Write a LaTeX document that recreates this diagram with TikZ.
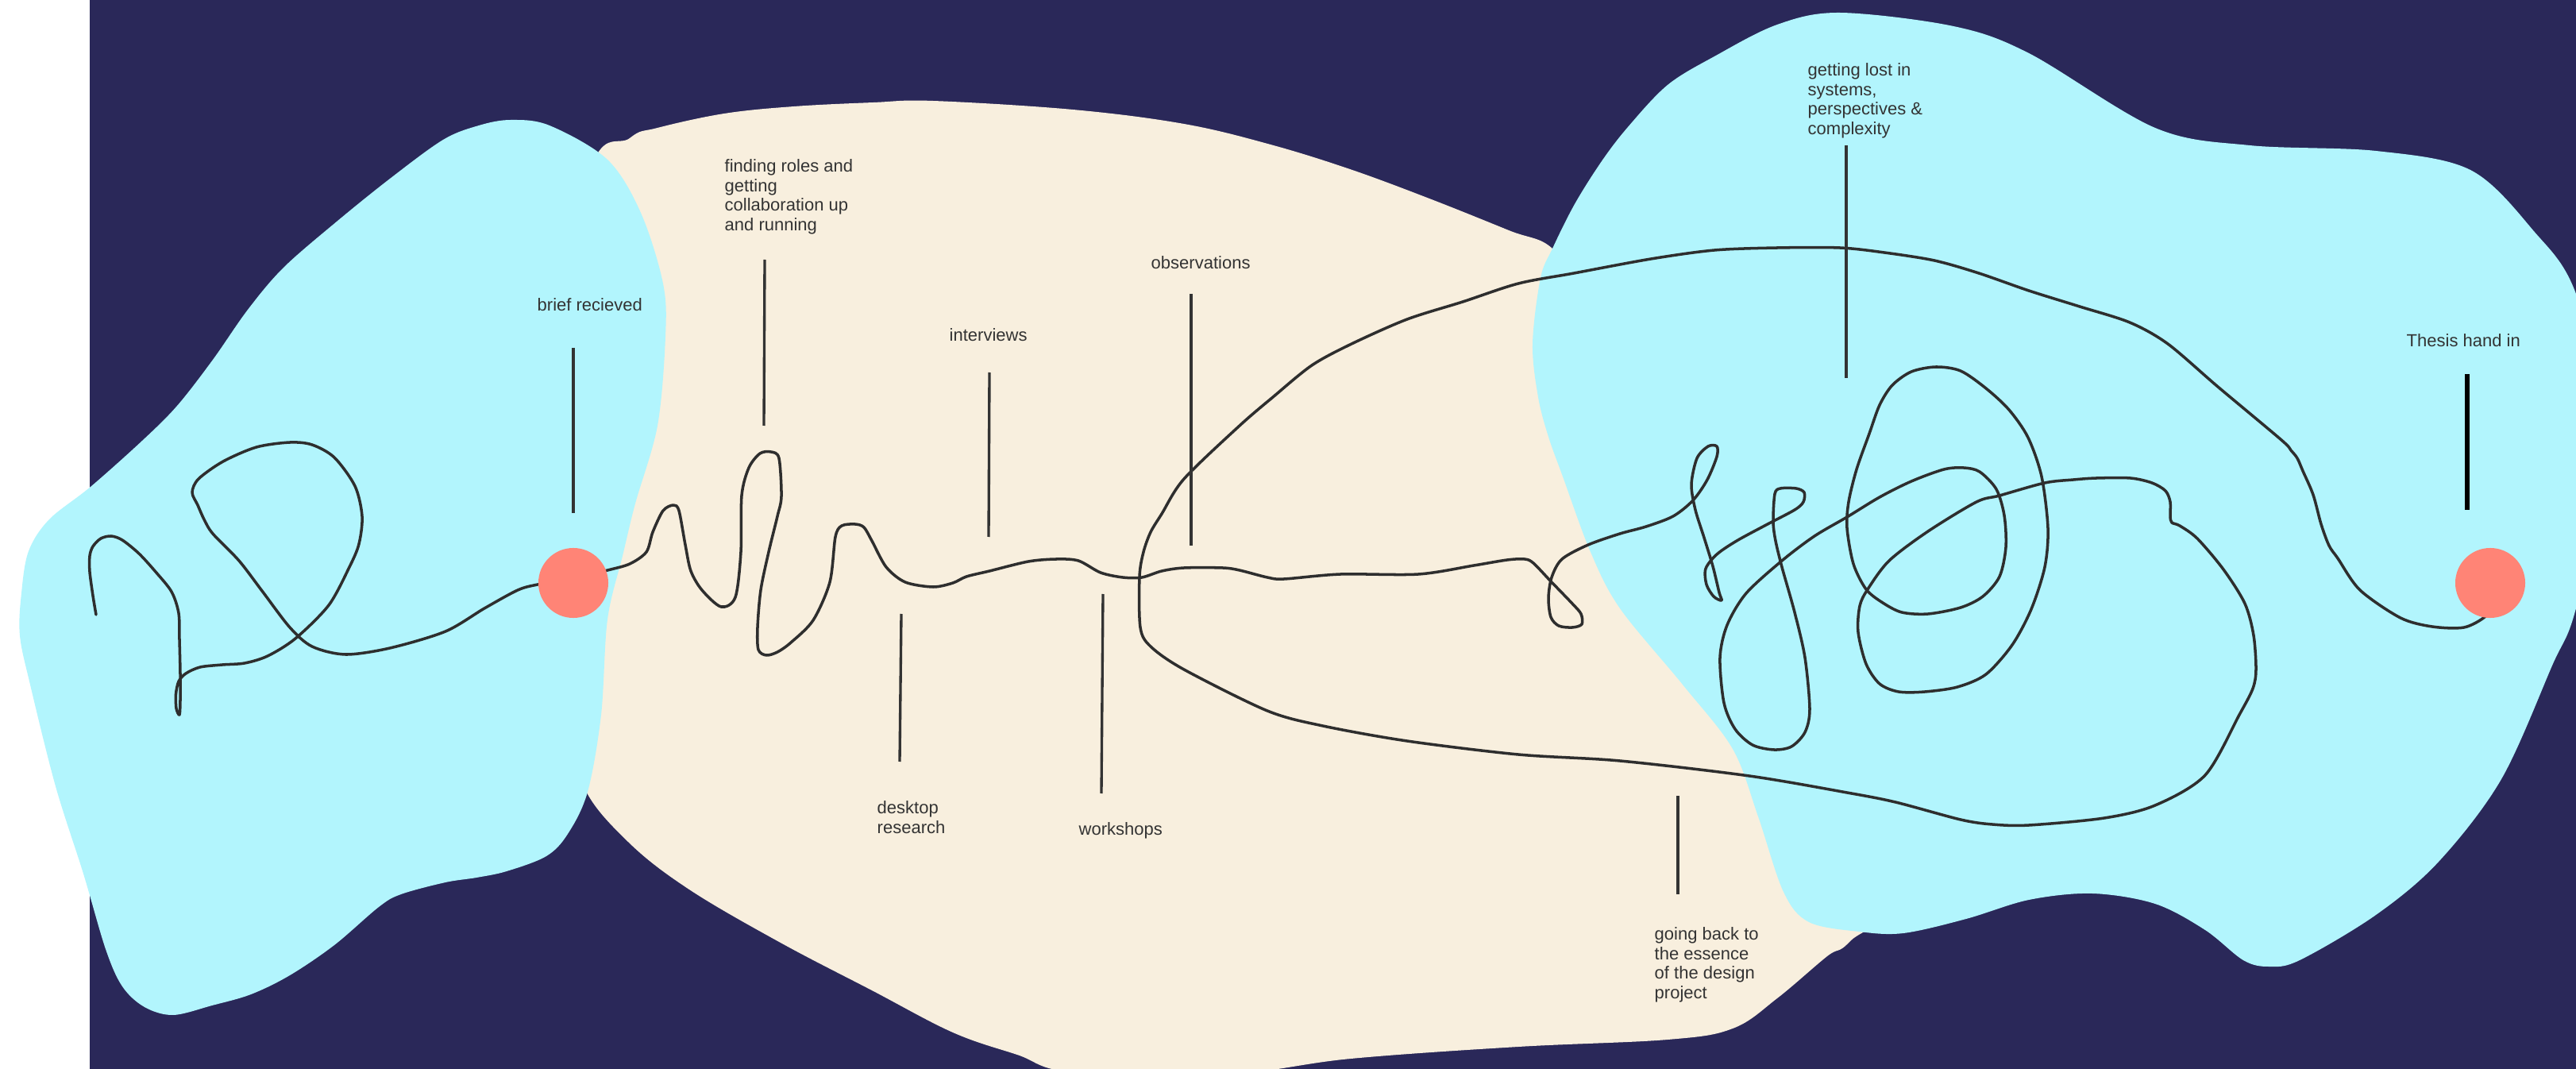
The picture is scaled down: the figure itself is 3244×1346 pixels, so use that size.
\documentclass[tikz,border=0pt]{standalone}
\usepackage{fontspec}
\setmainfont{Liberation Sans}
\definecolor{navy}{HTML}{2A2859}
\definecolor{skyc}{HTML}{B2F5FD}
\definecolor{sand}{HTML}{F8EFDE}
\definecolor{coral}{HTML}{FF8476}
\definecolor{ink}{HTML}{2E2E2E}
\definecolor{labelc}{HTML}{333333}
\newcommand\labfont{\fontsize{6.26pt}{6.97pt}\selectfont}
\begin{document}
\begin{tikzpicture}[x=0.01cm,y=-0.01cm,
  squig/.style={draw=ink, line width=1pt, line cap=round, line join=round},
  tickline/.style={draw=labelc, line width=0.95pt},
  thesisline/.style={draw=black, line width=1.5pt},
  lab/.style={font=\labfont, text=labelc, inner sep=0pt, anchor=north west, align=left},
  dot/.style={circle, fill=coral, minimum size=0.88cm, inner sep=0pt}]
\useasboundingbox (0,0) rectangle (3244,1346);
\clip (0,0) rectangle (3244,1346);
\fill[white] (0,0) rectangle (3244,1346);
\fill[navy] (113,0) rectangle (3244,1346);
% beige blob
\fill[sand] plot[smooth cycle, tension=0.6] coordinates {
 (793,174) (828,161) (912,143) (1000,134) (1100,129) (1175,127) (1351,138) (1491,156)
 (1600,182) (1700,213) (1800,250) (1900,290) (1955,313) (2000,380) (2060,540)
 (2220,880) (2400,1100) (2330,1185)
 (2301,1204) (2238,1257) (2182,1295) (2100,1309) (1912,1318) (1701,1333) (1550,1352)
 (1351,1350) (1281,1328) (1200,1300) (1098,1247) (983,1187) (868,1120) (791,1060)
 (735,990) (720,900) (700,600) (740,230)};
% left cyan blob
\fill[skyc] plot[smooth cycle, tension=0.55] coordinates {
 (643,151) (692,158) (765,201) (807,268) (835,357) (838,424) (828,536) (800,634)
 (784,700) (765,780) (757,900) (740,997) (715,1050) (688,1078) (638,1097) (600,1105)
 (561,1111) (505,1126) (477,1142) (421,1190) (365,1228) (316,1252) (267,1266)
 (218,1278) (182,1268) (154,1242) (133,1195) (105,1100) (70,990) (38,862) (25,800)
 (27,747) (36,694) (62,654) (114,613) (179,555) (223,511) (268,453) (312,390)
 (357,337) (424,279) (491,225) (558,176) (603,158)};
% right cyan blob
\fill[skyc] plot[smooth cycle, tension=0.55] coordinates {
 (1955,313) (1983,257) (2017,203) (2050,160) (2100,107) (2159,71) (2238,31) (2317,16)
 (2460,33) (2555,67)
 (2714,161) (2833,183) (2992,190) (3111,214) (3190,290) (3244,370) (3290,560)
 (3244,766) (3214,838) (3150,981) (3071,1085) (2992,1152) (2896,1209) (2857,1217)
 (2825,1209) (2777,1171) (2714,1138) (2635,1125) (2555,1133) (2476,1157) (2397,1175)
 (2341,1173) (2278,1161) (2246,1123) (2214,1028) (2182,943) (2119,862) (2040,766)
 (2003,695) (1968,600) (1950,550) (1937,500) (1930,433) (1940,350)};
% the journey line
\draw[squig] plot[smooth, tension=0.5] coordinates {
 (121,774) (117,750) (113,720) (113,700) (117,688) (127,678) (140,675) (154,680)
 (175,697) (196,720) (216,745) (225,772) (226,805) (227,848) (227,882) (226,900)
 (222,892) (221.5,874) (225,858) (234,848) (252,840) (280,837) (308,835) (337,826)
 (372,804) (414,762) (440,714) (452,685) (456,650) (447,612) (421,576) (393,560)
 (365,557) (323,563) (281,581) (250,603) (242,620) (249,636) (257,654) (268,672)
 (301,706) (330,744) (365,790) (393,814) (435,824) (491,816) (561,795) (610,766)
 (652,743) (677,736) (722,728) (765,718) (793,710) (814,695) (822,670) (835,643)
 (848,636) (855,643) (863,686) (870,719) (884,743) (908,764) (926,752) (933,695)
 (934,624) (943,589) (957,571) (971,569) (981,577) (984,625) (979,650) (968,695)
 (958,743) (954,790) (955,818) (965,825) (979,821) (996,809) (1024,781) (1045,733)
 (1052,676) (1060,662) (1077,660) (1088,664) (1098,681) (1116,714) (1140,733)
 (1175,739) (1200,734) (1217,726) (1246,719) (1295,707) (1330,704) (1358,706)
 (1386,721) (1414,727) (1438,727) (1463,719) (1491,715) (1540,715) (1561,718)
 (1596,727) (1617,729) (1688,723) (1786,723) (1856,712) (1898,705) (1920,704)
 (1931,709) (1953,732) (1980,760) (1991,773) (1992,786) (1980,790) (1963,788)
 (1953,777) (1950,753) (1954,727) (1967,704) (2000,686) (2040,672) (2073,663)
 (2107,650) (2132,630) (2150,604) (2162,575) (2162,562) (2151,562) (2137,577)
 (2130,610) (2135,642) (2146,677) (2157,713) (2165,746) (2168,756) (2158,751)
 (2149,736) (2148,716) (2162,698) (2187,681) (2224,661) (2260,642) (2271,632)
 (2272,620) (2262,615) (2242,615) (2235,622) (2233,657) (2236,681) (2244,714)
 (2260,771) (2273,828) (2279,893) (2273,922) (2256,940) (2234,944) (2207,938)
 (2185,918) (2171,885) (2166,828) (2175,787) (2199,747) (2244,706) (2285,675)
 (2326,651) (2367,626) (2407,606) (2448,591) (2473,589) (2493,594) (2514,616)
 (2524,649) (2526,689) (2518,726) (2497,751) (2469,765) (2428,773) (2395,771)
 (2371,759) (2350,742) (2334,710) (2326,665) (2328,632) (2338,591) (2354,546)
 (2367,510) (2383,485) (2407,468) (2438,462) (2469,467) (2501,489) (2530,516)
 (2554,551) (2571,600) (2579,665) (2575,714) (2558,767) (2534,812) (2501,849)
 (2465,865) (2424,871) (2391,871) (2367,861) (2350,836) (2340,796) (2342,763)
 (2352,742) (2379,706) (2428,669) (2489,632) (2518,624) (2575,608) (2611,604)
 (2640,602) (2683,602) (2710,608) (2727,618) (2733,632) (2733,650) (2735,658)
 (2745,662) (2767,678) (2800,717) (2827,760) (2838,800) (2841,843) (2837,867)
 (2820,900) (2777,976) (2714,1014) (2650,1030) (2555,1039) (2509,1038) (2469,1032)
 (2387,1010) (2326,998) (2203,977) (2040,958) (1912,950) (1772,933) (1666,914)
 (1596,895) (1491,843) (1449,814) (1436,790) (1435,726) (1440,695) (1449,670)
 (1463,647) (1491,603) (1561,536) (1603,500) (1652,460) (1702,433) (1772,402)
 (1842,380) (1912,357) (1982,344) (2079,326) (2159,315) (2238,312) (2317,312)
 (2373,318) (2436,328) (2492,344) (2555,366) (2619,386) (2682,406) (2730,433)
 (2793,487) (2873,554) (2885,567) (2893,577) (2900,593) (2913,623) (2923,660)
 (2933,687) (2944,703) (2972,743) (3023,778) (3063,789) (3103,790) (3130,776)
 (3136,760)};
% milestones
\node[dot] (start) at (722,734) {};
\node[dot] (finish) at (3136,734) {};
% labels
\node[lab] (brief) at (676,375) {brief recieved};
\node[lab] (roles) at (912,200) {finding roles and\\getting\\collaboration up\\and running};
\node[lab] (interv) at (1195,413) {interviews};
\node[lab] (observ) at (1449,322) {observations};
\node[lab] (desk) at (1104,1008) {desktop\\research};
\node[lab] (works) at (1358,1035) {workshops};
\node[lab] (back) at (2083,1167) {going back to\\the essence\\of the design\\project};
\node[lab] (lost) at (2276,79) {getting lost in\\systems,\\perspectives \&\\complexity};
\node[lab] (thesis) at (3030,420) {Thesis hand in};
% tick lines
\coordinate (t1a) at (722,438);   \coordinate (t1b) at (722,646);
\coordinate (t2a) at (963,327);   \coordinate (t2b) at (962,536);
\coordinate (t3a) at (1246,469);  \coordinate (t3b) at (1245,676);
\coordinate (t4a) at (1500,370);  \coordinate (t4b) at (1500,687);
\coordinate (t5a) at (1135,773);  \coordinate (t5b) at (1133,959);
\coordinate (t6a) at (1389,748);  \coordinate (t6b) at (1387,999);
\coordinate (t7a) at (2113,1002); \coordinate (t7b) at (2113,1126);
\coordinate (t8a) at (2325,183);  \coordinate (t8b) at (2325,476);
\coordinate (t9a) at (3107,471);  \coordinate (t9b) at (3107,642);
\draw[tickline] (t1a) -- (t1b);
\draw[tickline] (t2a) -- (t2b);
\draw[tickline] (t3a) -- (t3b);
\draw[tickline] (t4a) -- (t4b);
\draw[tickline] (t5a) -- (t5b);
\draw[tickline] (t6a) -- (t6b);
\draw[tickline] (t7a) -- (t7b);
\draw[tickline] (t8a) -- (t8b);
\draw[thesisline] (t9a) -- (t9b);
\end{tikzpicture}
\end{document}
